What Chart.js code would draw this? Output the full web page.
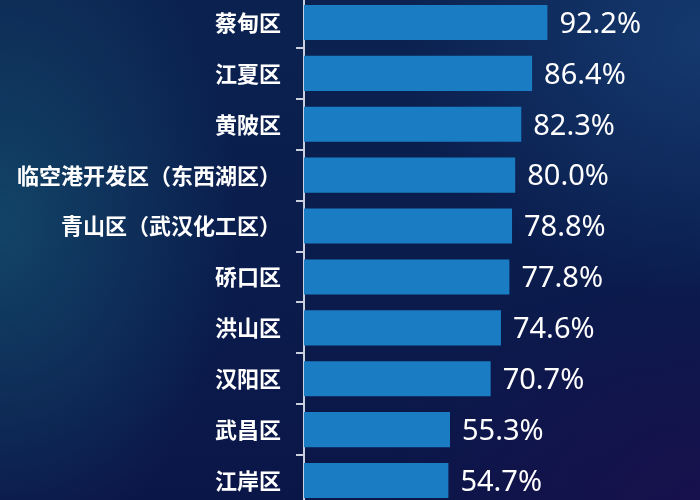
<!DOCTYPE html>
<html lang="zh">
<head>
<meta charset="UTF-8">
<title>武汉各区</title>
<script src="https://cdn.jsdelivr.net/npm/chart.js"></script>
<style>
    html, body {
        margin: 0;
        width: 700px;
        height: 500px;
        overflow: hidden;
    }
    body {
        position: relative;
        background:
            radial-gradient(ellipse 240px 330px at 0% 45%, rgba(22, 85, 115, 0.7), rgba(22, 85, 115, 0) 100%),
            radial-gradient(ellipse 300px 260px at 100% 8%, rgba(30, 80, 140, 0.5), rgba(30, 80, 140, 0) 100%),
            radial-gradient(ellipse 320px 240px at 100% 100%, rgba(28, 14, 78, 0.7), rgba(28, 14, 78, 0) 100%),
            linear-gradient(180deg, #0b2250 0%, #0a1b4c 60%, #0b1648 100%);
    }
    .chart-box {
        position: absolute;
        left: 0;
        top: -3px;
        width: 700px;
        height: 509px;
    }
</style>
</head>
<body>
<div class="chart-box">
    <canvas id="rateChart"></canvas>
</div>
<script>
    const districts = ['蔡甸区', '江夏区', '黄陂区', '临空港开发区（东西湖区）', '青山区（武汉化工区）',
        '硚口区', '洪山区', '汉阳区', '武昌区', '江岸区'];
    const rates = [92.2, 86.4, 82.3, 80.0, 78.8, 77.8, 74.6, 70.7, 55.3, 54.7];

    // подписи значений справа от полос
    const valueLabels = {
        id: 'valueLabels',
        afterDatasetsDraw(chart) {
            const ctx = chart.ctx;
            const meta = chart.getDatasetMeta(0);
            ctx.save();
            ctx.fillStyle = '#ffffff';
            ctx.font = '29px "Noto Sans", sans-serif';
            ctx.textAlign = 'left';
            ctx.textBaseline = 'middle';
            meta.data.forEach(function(bar, i) {
                ctx.fillText(rates[i].toFixed(1) + '%', bar.x + 12, bar.y + 2);
            });
            ctx.restore();
        }
    };

    const ctx = document.getElementById('rateChart').getContext('2d');
    new Chart(ctx, {
        type: 'bar',
        data: {
            labels: districts,
            datasets: [{
                data: rates,
                backgroundColor: '#1a7dc4',
                borderWidth: 0,
                barPercentage: 0.69,
                categoryPercentage: 1
            }]
        },
        options: {
            indexAxis: 'y',
            responsive: true,
            maintainAspectRatio: false,
            animation: false,
            layout: { padding: 0 },
            plugins: {
                legend: { display: false },
                tooltip: { enabled: false }
            },
            scales: {
                x: {
                    display: false,
                    min: 0,
                    max: 150
                },
                y: {
                    offset: true,
                    afterFit(scale) {
                        scale.width = 304;
                        scale.paddingTop = 0;
                        scale.paddingBottom = 0;
                    },
                    grid: {
                        drawOnChartArea: false,
                        drawTicks: true,
                        tickLength: 8,
                        offset: true,
                        color: '#c9cfdc',
                        lineWidth: 2
                    },
                    border: { color: '#c9cfdc', width: 2 },
                    ticks: {
                        color: '#ffffff',
                        padding: 15,
                        font: { family: '"Noto Sans CJK SC", sans-serif', size: 22, weight: 'bold' }
                    }
                }
            }
        },
        plugins: [valueLabels]
    });
</script>
</body>
</html>
